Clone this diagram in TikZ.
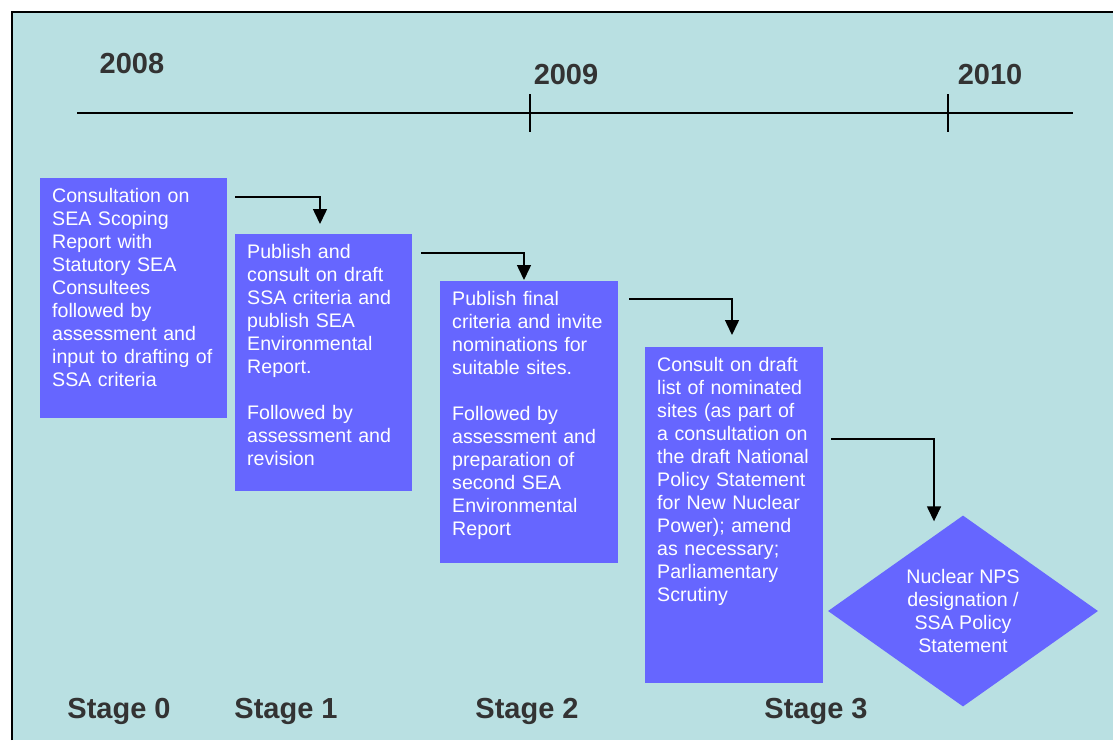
\documentclass[tikz,border=0pt]{standalone}
\usepackage{fontspec}
\setmainfont{Liberation Sans}
\usetikzlibrary{arrows.meta,shapes.geometric}
\definecolor{panelcyan}{RGB}{185,224,226}
\definecolor{stageblue}{RGB}{102,102,255}
\definecolor{labelgrey}{RGB}{51,51,51}
\tikzset{
	stagebox/.style={fill=stageblue, text=white, anchor=north west, align=left, inner xsep=11pt, inner ysep=9pt, text height=15pt, font=\fontsize{19.6}{23}\selectfont},
	yearlabel/.style={anchor=base, text=labelgrey, font=\fontsize{29}{33}\selectfont\bfseries},
	flow/.style={-{Triangle[width=14pt,length=15pt]}, line width=1.5pt}
}
\begin{document}
\begin{tikzpicture}[x=1pt,y=-1pt]
	\useasboundingbox (0,0) rectangle (1113,740);
	\fill[panelcyan] (12,12) rectangle (1113,740);
	\draw[line width=2pt] (12,740) -- (12,12) -- (1113,12);
	\draw[line width=1.5pt] (77,113) -- (1073,113);
	\foreach \x in {530,948} \draw[line width=1.5pt] (\x,94) -- (\x,132);
	\node[yearlabel] (y2008) at (132,73) {2008};
	\node[yearlabel] (y2009) at (566,84) {2009};
	\node[yearlabel] (y2010) at (990,84) {2010};
	\node[stagebox, text width=165pt, text depth=207pt] (s0) at (40,178) {\hspace{1pt}Consultation on\\\hspace{1pt}SEA Scoping\\\hspace{1pt}Report with\\\hspace{1pt}Statutory SEA\\\hspace{1pt}Consultees\\\hspace{1pt}followed by\\\hspace{1pt}assessment and\\\hspace{1pt}input to drafting of\\\hspace{1pt}SSA criteria};
	\node[stagebox, text width=155pt, text depth=224pt] (s1) at (235,234) {\hspace{1pt}Publish and\\\hspace{1pt}consult on draft\\\hspace{1pt}SSA criteria and\\\hspace{1pt}publish SEA\\\hspace{1pt}Environmental\\\hspace{1pt}Report.\\[23pt]\hspace{1pt}Followed by\\\hspace{1pt}assessment and\\\hspace{1pt}revision};
	\node[stagebox, text width=156pt, text depth=249pt] (s2) at (440,281) {\hspace{1pt}Publish final\\\hspace{1pt}criteria and invite\\\hspace{1pt}nominations for\\\hspace{1pt}suitable sites.\\[23pt]\hspace{1pt}Followed by\\\hspace{1pt}assessment and\\\hspace{1pt}preparation of\\\hspace{1pt}second SEA\\\hspace{1pt}Environmental\\\hspace{1pt}Report};
	\node[stagebox, text width=156pt, text depth=303pt] (s3) at (645,347) {\hspace{1pt}Consult on draft\\\hspace{1pt}list of nominated\\\hspace{1pt}sites (as part of\\\hspace{1pt}a consultation on\\\hspace{1pt}the draft National\\\hspace{1pt}Policy Statement\\\hspace{1pt}for New Nuclear\\\hspace{1pt}Power); amend\\\hspace{1pt}as necessary;\\\hspace{1pt}Parliamentary\\\hspace{1pt}Scrutiny};
	\node[diamond, fill=stageblue, text=white, aspect=1.41, minimum width=270pt, minimum height=191pt, inner sep=0pt, align=center, font=\fontsize{19.6}{23}\selectfont] (nps) at (963,611) {Nuclear NPS\\designation /\\SSA Policy\\Statement};
	\draw[flow] ([shift={(8,19)}]s0.north east) -| ([shift={(85,-10)}]s1.north west);
	\draw[flow] ([shift={(9,19)}]s1.north east) -| ([shift={(84,-1)}]s2.north west);
	\draw[flow] ([shift={(11,18)}]s2.north east) -| ([shift={(87,-12)}]s3.north west);
	\draw[flow] ([shift={(8,92)}]s3.north east) -| ([shift={(-29,6)}]nps.north);
	\node[yearlabel] (st0) at (119,718) {Stage 0};
	\node[yearlabel] (st1) at (286,718) {Stage 1};
	\node[yearlabel] (st2) at (527,718) {Stage 2};
	\node[yearlabel] (st3) at (816,718) {Stage 3};
\end{tikzpicture}
\end{document}
